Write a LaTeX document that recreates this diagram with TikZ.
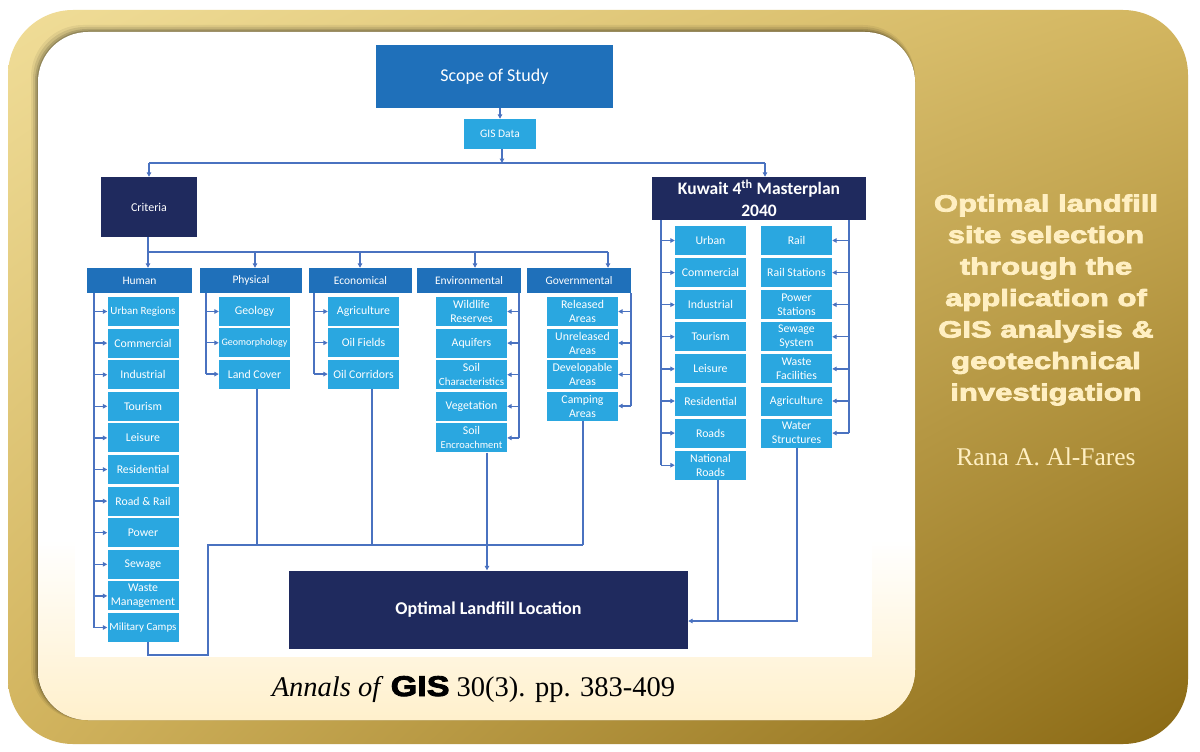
\documentclass[tikz,border=0pt]{standalone}
\usepackage{fontspec}
\setmainfont{Liberation Serif}
\newfontfamily\calfont{Carlito}
\newfontfamily\heavy{Liberation Sans}[FakeStretch=1.2,BoldFeatures={FakeBold=3}]
\newfontfamily\heavywide{Liberation Sans}[FakeStretch=1.32,BoldFeatures={FakeBold=3.5}]
\usetikzlibrary{arrows.meta,shadings}
\definecolor{navy}{HTML}{1F2A5E}
\definecolor{midblue}{HTML}{1F70BA}
\definecolor{lightblue}{HTML}{2AA7E0}
\definecolor{conn}{HTML}{4A72C0}
\definecolor{cream}{HTML}{FFF0CC}
\definecolor{titletxt}{HTML}{FFEFC2}
\definecolor{goldA}{HTML}{F0DD98}
\definecolor{goldB}{HTML}{D3B660}
\definecolor{goldC}{HTML}{D2B45E}
\definecolor{goldD}{HTML}{8A6914}
\begin{document}
\begin{tikzpicture}[x=1pt,y=-1pt,
 box/.style={inner sep=0pt, align=center, text=white},
 sub/.style={box, fill=lightblue, minimum width=71pt, minimum height=29pt, font=\calfont\fontsize{11.8}{14}\selectfont},
 cat/.style={box, fill=midblue, minimum height=25pt, font=\calfont\fontsize{11.5}{13}\selectfont},
 dark/.style={box, fill=navy},
 line/.style={draw=conn, line width=1.3pt},
 arr/.style={line, -{Triangle[length=4.5pt,width=4.5pt]}},
]
\useasboundingbox (0,0) rectangle (1200,752);
\fill[white] (0,0) rectangle (1200,752);
% outer gold frame
\shade[rounded corners=65pt, upper left=goldA, upper right=goldB, lower left=goldC, lower right=goldD] (8,10) rectangle (1188,744);
% inner panel shadow
\foreach \d/\o in {7/0.06,5/0.09,3/0.13,1.5/0.16} {\fill[black,opacity=\o,rounded corners=52pt] (38-\d,32-\d) rectangle (915,720);}
% inner panel
\fill[white, rounded corners=50pt] (38,32) rectangle (915,720);
\begin{scope}
\clip[rounded corners=50pt] (38,32) rectangle (915,720);
\shade[top color=white, bottom color=cream] (38,540) rectangle (915,720);
\end{scope}
\fill[white] (75,40) rectangle (872,657);

% ---------- top ----------
\node[box, fill=midblue, minimum width=237pt, minimum height=63pt, font=\calfont\fontsize{18}{20}\selectfont] (scope) at (494.5,76.5) {Scope of Study};
\node[sub, minimum width=72pt, minimum height=30pt, font=\calfont\fontsize{11.5}{13}\selectfont] (gis) at (500,134) {GIS Data};
\node[dark, minimum width=96pt, minimum height=60pt, font=\calfont\fontsize{12}{14}\selectfont] (crit) at (149,207) {Criteria};
\node[dark, minimum width=214pt, minimum height=43pt, font=\calfont\bfseries\fontsize{17.5}{22}\selectfont] (kuw) at (759,198.5) {Kuwait 4\textsuperscript{th} Masterplan\\2040};
\node[dark, minimum width=399pt, minimum height=78pt, font=\calfont\bfseries\fontsize{18}{20}\selectfont] (opt) at (488.5,609.5) {Optimal Landfill Location};

\coordinate (b1) at (502,163);
\coordinate (k1) at (765,163);
\draw[arr] (scope.south -| gis.north) -- (gis.north);
\draw[arr] (gis.south -| b1) -- (b1);
\draw[line] (crit.north |- b1) -- (k1);
\draw[arr] (crit.north |- b1) -- (crit.north);
\draw[arr] (k1) -- (k1 |- kuw.north);

% ---------- categories ----------
\node[cat, minimum width=105pt] (hum) at (139.5,280.5) {Human};
\node[cat, minimum width=102pt] (phy) at (251,280.5) {Physical};
\node[cat, minimum width=103pt] (eco) at (360.5,280.5) {Economical};
\node[cat, minimum width=104pt] (env) at (469,280.5) {Environmental};
\node[cat, minimum width=104pt] (gov) at (579,280.5) {Governmental};

\coordinate (ch) at (148,252);
\coordinate (cp) at (255,252);
\coordinate (ce) at (360,252);
\coordinate (cv) at (475,252);
\coordinate (cg) at (608,252);
\draw[line] (crit.south -| ch) -- (ch) -- (cg);
\draw[arr] (ch) -- (ch |- hum.north);
\draw[arr] (cp) -- (cp |- phy.north);
\draw[arr] (ce) -- (ce |- eco.north);
\draw[arr] (cv) -- (cv |- env.north);
\draw[arr] (cg) -- (cg |- gov.north);

% ---------- Human ----------
\foreach \t [count=\i] in {{\fontsize{11}{13}\selectfont Urban Regions},Commercial,Industrial,Tourism,Leisure,Residential,Road \& Rail,Power,Sewage,{Waste\\Management},{\fontsize{11}{13}\selectfont Military Camps}}
  \node[sub] (h\i) at (143,{311.5+31.6*(\i-1)}) {\t};
\coordinate (hx) at (94,0);
\draw[line] (hum.south -| hx) -- (h11.west -| hx);
\foreach \i in {1,...,11} \draw[arr] (h\i.west -| hx) -- (h\i.west);

% ---------- Physical ----------
\foreach \t [count=\i] in {Geology,{\fontsize{10}{12}\selectfont Geomorphology},Land Cover}
  \node[sub] (p\i) at (254.5,{311.5+31.3*(\i-1)}) {\t};
\coordinate (px) at (206,0);
\draw[line] (phy.south -| px) -- (p3.west -| px);
\foreach \i in {1,2,3} \draw[arr] (p\i.west -| px) -- (p\i.west);

% ---------- Economical ----------
\foreach \t [count=\i] in {Agriculture,Oil Fields,Oil Corridors}
  \node[sub] (o\i) at (363.5,{311.5+31.3*(\i-1)}) {\t};
\coordinate (ox) at (314,0);
\draw[line] (eco.south -| ox) -- (o3.west -| ox);
\foreach \i in {1,2,3} \draw[arr] (o\i.west -| ox) -- (o\i.west);

% ---------- Environmental ----------
\foreach \t [count=\i] in {{Wildlife\\Reserves},Aquifers,{Soil\\{\fontsize{11}{13}\selectfont Characteristics}},Vegetation,{Soil\\{\fontsize{10.5}{13}\selectfont Encroachment}}}
  \node[sub] (e\i) at (471.5,{311.5+31.6*(\i-1)}) {\t};
\coordinate (ex) at (519,0);
\draw[line] (env.south -| ex) -- (e5.east -| ex);
\foreach \i in {1,...,5} \draw[arr] (e\i.east -| ex) -- (e\i.east);

% ---------- Governmental ----------
\foreach \t [count=\i] in {{Released\\Areas},{Unreleased\\Areas},{Developable\\Areas},{Camping\\Areas}}
  \node[sub] (g\i) at (582.5,{311.5+31.5*(\i-1)}) {\t};
\coordinate (gx) at (631,0);
\draw[line] (gov.south -| gx) -- (g4.east -| gx);
\foreach \i in {1,...,4} \draw[arr] (g\i.east -| gx) -- (g\i.east);

% ---------- Kuwait ----------
\foreach \t [count=\i] in {Urban,Commercial,Industrial,Tourism,Leisure,Residential,Roads,{National\\Roads}}
  \node[sub] (k\i) at (710.5,{240.5+32.1*(\i-1)}) {\t};
\foreach \t [count=\i] in {Rail,Rail Stations,{Power\\Stations},{Sewage\\System},{Waste\\Facilities},Agriculture,{Water\\Structures}}
  \node[sub] (r\i) at (796.5,{240.5+32.1*(\i-1)}) {\t};
\coordinate (kx) at (661,0);
\coordinate (rx) at (849,0);
\draw[line] (kuw.south -| kx) -- (k8.west -| kx);
\foreach \i in {1,...,8} \draw[arr] (k\i.west -| kx) -- (k\i.west);
\draw[line] (kuw.south -| rx) -- (r7.east -| rx);
\foreach \i in {1,...,7} \draw[arr] (r\i.east -| rx) -- (r\i.east);

% ---------- bottom connectors ----------
\coordinate (m0) at (148,655);
\coordinate (m1) at (208,545);
\coordinate (lp) at (257,545);
\coordinate (le) at (372,545);
\coordinate (lv) at (487,545);
\coordinate (lg) at (583,545);
\draw[line] (lp |- p3.south) -- (lp);
\draw[line] (le |- o3.south) -- (le);
\draw[line] (lg |- g4.south) -- (lg);
\draw[line] (m0 |- h11.south) -- (m0) -| (m1) -- (lg);
\draw[arr] (lv |- e5.south) -- (lv |- opt.north);
\coordinate (ln) at (718,621);
\coordinate (lw) at (797,621);
\draw[line] (ln |- k8.south) -- (ln);
\draw[line] (lw |- r7.south) -- (lw) -- (ln);
\draw[arr] (ln) -- (ln -| opt.east);

% ---------- texts ----------
\node[align=center, text=titletxt, font=\heavywide\bfseries\fontsize{23.5}{31.5}\selectfont] (title) at (1046,300) {Optimal landfill\\site selection\\through the\\application of\\GIS analysis \&\\geotechnical\\investigation};
\node[text=titletxt, font=\fontsize{25.5}{28}\selectfont] (author) at (1046,457) {Rana A. Al-Fares};
\node[anchor=base, text=black, font=\fontsize{28.5}{30}\selectfont] (cite) at (473.5,696) {\textit{Annals of} {\heavy\bfseries GIS} 30(3). pp. 383-409};
\end{tikzpicture}
\end{document}
